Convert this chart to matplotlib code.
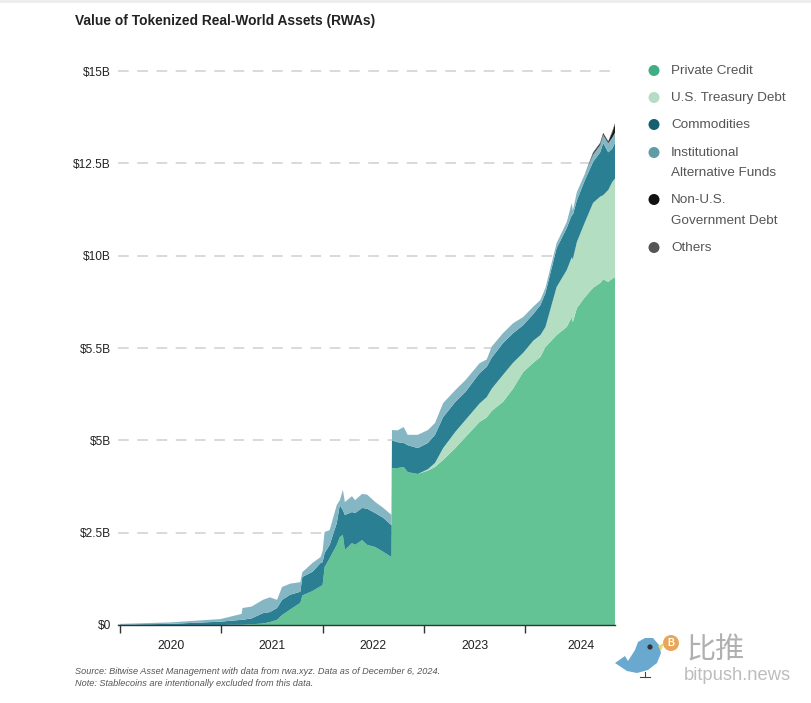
import matplotlib
matplotlib.use("Agg")
import matplotlib.pyplot as plt
from matplotlib.patches import Polygon, Circle

plt.rcParams['font.family'] = ['Liberation Sans', 'DejaVu Sans']

# readings, $B per series at each date (fraction of year)
dates = [2020.00, 2020.49, 2020.99, 2021.20, 2021.21, 2021.30, 2021.41, 2021.48, 2021.55, 2021.60,
         2021.68, 2021.78, 2021.80, 2021.90, 2021.98, 2022.00, 2022.02, 2022.07, 2022.14, 2022.17,
         2022.20, 2022.22, 2022.29, 2022.32, 2022.39, 2022.44, 2022.52, 2022.60, 2022.68, 2022.685,
         2022.74, 2022.80, 2022.84, 2022.94, 2023.04, 2023.11, 2023.19, 2023.31, 2023.41, 2023.55,
         2023.62, 2023.67, 2023.78, 2023.88, 2023.98, 2024.08, 2024.15, 2024.20, 2024.31, 2024.41,
         2024.46, 2024.47, 2024.51, 2024.59, 2024.67, 2024.74, 2024.77, 2024.82, 2024.86, 2024.89]
private_credit = [0, 0, 0, 0.01, 0.01, 0.02, 0.04, 0.08, 0.14, 0.27,
                  0.42, 0.6, 0.8, 0.92, 1.05, 1.08, 1.57, 1.81, 2.17, 2.38,
                  2.44, 2.03, 2.22, 2.17, 2.3, 2.17, 2.11, 1.98, 1.84, 4.25,
                  4.25, 4.28, 4.14, 4.09, 4.18, 4.28, 4.47, 4.79, 5.09, 5.5,
                  5.62, 5.8, 6.04, 6.4, 6.85, 7.1, 7.26, 7.53, 7.85, 8.07,
                  8.34, 8.2, 8.58, 8.88, 9.13, 9.26, 9.36, 9.29, 9.38, 9.42]
treasury = [0] * 34 + [0.04, 0.11, 0.32, 0.44, 0.46, 0.5,
                       0.55, 0.6, 0.73, 0.7, 0.52, 0.6, 0.59, 0.54, 1.3, 1.54,
                       1.62, 1.7, 1.79, 2.03, 2.3, 2.34, 2.28, 2.49, 2.62, 2.68]
commodities = [0.01, 0.03, 0.09, 0.13, 0.13, 0.16, 0.28, 0.27, 0.32, 0.41,
               0.4, 0.3, 0.5, 0.52, 0.63, 0.62, 0.38, 0.36, 0.59, 0.87,
               0.67, 0.95, 0.84, 0.86, 0.87, 0.98, 0.92, 0.92, 0.86, 0.75,
               0.7, 0.65, 0.73, 0.7, 0.71, 0.76, 0.84, 0.81, 0.76, 0.82,
               0.82, 0.84, 0.86, 0.8, 0.75, 0.72, 0.81, 0.92, 1.05, 1.14,
               1.14, 1.2, 1.13, 1.14, 1.11, 1.2, 1.41, 1.02, 0.9, 0.98]
alt_funds = [0.02, 0.04, 0.07, 0.16, 0.32, 0.32, 0.36, 0.4, 0.22, 0.35,
             0.3, 0.26, 0.13, 0.24, 0.16, 0.3, 0.57, 0.4, 0.49, 0.13,
             0.55, 0.35, 0.43, 0.35, 0.38, 0.38, 0.3, 0.27, 0.28, 0.28,
             0.32, 0.43, 0.28, 0.36, 0.35, 0.32, 0.38, 0.32, 0.32, 0.27,
             0.2, 0.3, 0.27, 0.27, 0.22, 0.2, 0.14, 0.14, 0.14, 0.16,
             0.33, 0.12, 0.22, 0.17, 0.2, 0.2, 0.22, 0.25, 0.3, 0.27]
non_us_debt = [0] * 54 + [0.04, 0.04, 0.04, 0.04, 0.14, 0.24]
others = [0] * 54 + [0.02, 0.02, 0.02, 0.01, 0.04, 0.03]

y_ticks = [0, 2.5, 5, 7.5, 10, 12.5, 15]
y_labels = ['$0', '$2.5B', '$5B', '$5.5B', '$10B', '$12.5B', '$15B']  # 5.5 is what the original prints
year_ticks = [2020, 2021, 2022, 2023, 2024]
year_label_pos = [2020.5, 2021.5, 2022.5, 2023.5, 2024.55]
year_labels = ['2020', '2021', '2022', '2023', '2024']

legend_names = ['Private Credit', 'U.S. Treasury Debt', 'Commodities',
                'Institutional\nAlternative Funds', 'Non-U.S.\nGovernment Debt', 'Others']
legend_y = [71, 98, 125, 153, 200, 248]
fill_colors = ['#63c394', '#b3dec1', '#2a7f93', '#85b6c3', '#1a1a1a', '#555555']
dot_colors = ['#3fae85', '#b5dcc4', '#14606e', '#5f9ca6', '#111111', '#555555']

W, H = 812, 703
fig = plt.figure(figsize=(W / 100, H / 100), dpi=100)
# axes box in pixels: x 118..615, y 625 up to 60
ax = fig.add_axes([118 / W, 1 - 625 / H, (615 - 118) / W, (625 - 60) / H])
ax.set_xlim(2020 + (118 - 120) / 101.3, 2020 + (615 - 120) / 101.3)
ax.set_ylim(0, (625 - 60) / 36.93)

ax.stackplot(dates, private_credit, treasury, commodities, alt_funds, non_us_debt, others,
             colors=fill_colors, linewidth=0, zorder=3)

ax.set_yticks(y_ticks)
ax.set_yticklabels(y_labels, fontsize=8.6, color='#222222')
ax.tick_params(axis='y', length=0, pad=5)
ax.yaxis.grid(True, color='#cfcfcf', linewidth=1.1, linestyle=(0, (7, 5.6)), zorder=1)
ax.set_axisbelow(True)

ax.set_xticks(year_ticks)
ax.set_xticklabels([])
ax.tick_params(axis='x', length=6, width=1, color='#333333')
ax.set_xticks(year_label_pos, minor=True)
ax.set_xticklabels(year_labels, minor=True, fontsize=8.8, color='#222222')
ax.tick_params(axis='x', which='minor', length=0, pad=11)

for s in ['top', 'right', 'left']:
    ax.spines[s].set_visible(False)
ax.spines['bottom'].set_color('#333333')
ax.spines['bottom'].set_linewidth(1)
ax.spines['bottom'].set_zorder(5)

# overlay in image pixels for the title, legend, notes and watermark
ov = fig.add_axes([0, 0, 1, 1])
ov.set_xlim(0, W)
ov.set_ylim(H, 0)
ov.axis('off')
ov.patch.set_alpha(0)

ov.axhline(1, color='#ececec', linewidth=2)
ov.text(75, 21, 'Value of Tokenized Real-World Assets (RWAs)', fontsize=9.9, fontweight='bold',
        color='#222222', va='center')

for name, y, dot in zip(legend_names, legend_y, dot_colors):
    ov.add_patch(Circle((654, y - 0.5), 5.5, color=dot, linewidth=0))
    for i, line in enumerate(name.split('\n')):
        ov.text(671, y + 20.5 * i, line, fontsize=9.7, color='#555555', va='center')

ov.text(75, 671, 'Source: Bitwise Asset Management with data from rwa.xyz. Data as of December 6, 2024.',
        fontsize=6.6, style='italic', color='#555555', va='center')
ov.text(75, 683, 'Note: Stablecoins are intentionally excluded from this data.',
        fontsize=6.6, style='italic', color='#555555', va='center')

# bitpush watermark
bird = [(615, 663), (625, 656), (628, 661), (635, 650), (638, 642), (645, 638), (653, 638),
        (659, 645), (661, 653), (657, 663), (648, 670), (637, 673), (627, 671)]
ov.add_patch(Polygon(bird, closed=True, color='#6aa9cf', linewidth=0))
ov.add_patch(Polygon([(658, 646), (664, 643), (661, 651)], closed=True, color='#e3dc6a', linewidth=0))
ov.add_patch(Circle((650, 647), 2.6, color='#333333', linewidth=0))
ov.plot([645, 645], [672, 677], color='#444444', linewidth=0.8)
ov.plot([640, 650], [677, 677], color='#444444', linewidth=0.8)
ov.add_patch(Circle((671, 643), 8, color='#e9a65a', linewidth=0))
ov.text(671, 643, 'B', fontsize=7, fontweight='bold', color='white', ha='center', va='center')
ov.text(686, 650, '比推', fontsize=21, color='#b0b0b0', va='center', family=['Noto Sans CJK SC'])
ov.text(684, 676, 'bitpush.news', fontsize=13.2, color='#bdbdbd', va='center')

fig.savefig('out.png', dpi=100, facecolor='white')
